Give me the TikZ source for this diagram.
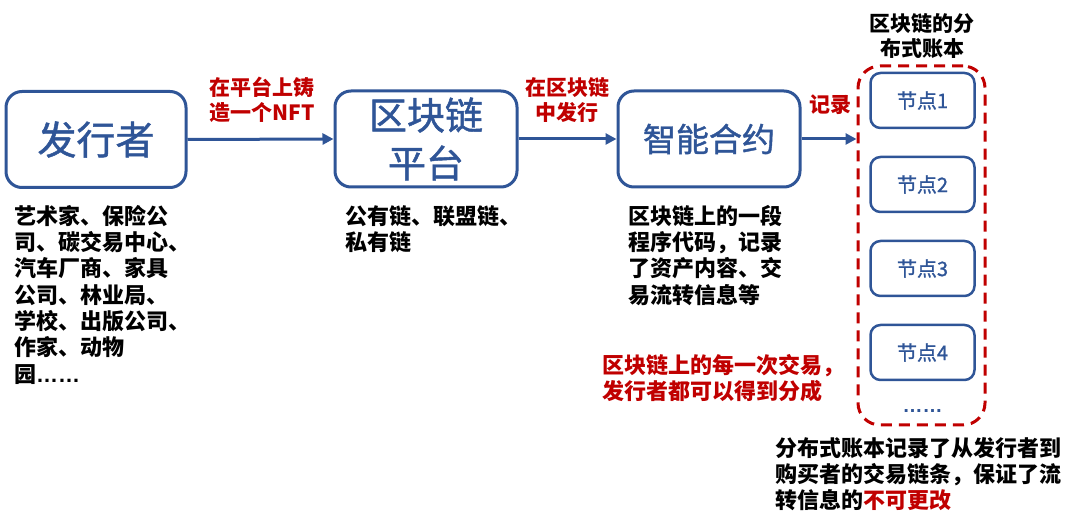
\documentclass[tikz,border=0pt]{standalone}
\usepackage{fontspec}
\setmainfont{Noto Sans CJK SC}
\newfontfamily\latinfont{Liberation Sans}
\newfontfamily\medfont[FakeBold=1.2]{Noto Sans CJK SC}
\usetikzlibrary{arrows.meta}
\definecolor{bblue}{RGB}{47,85,151}
\definecolor{dred}{RGB}{192,0,0}
\begin{document}
\begin{tikzpicture}[x=1pt,y=-1pt,
  mainbox/.style={draw=bblue, line width=3pt, rounded corners=16pt, minimum width=180pt, minimum height=96pt, text=bblue, align=center, inner sep=0pt},
  nodebox/.style={draw=bblue, line width=2.5pt, rounded corners=10pt, minimum width=104pt, minimum height=55pt, text=bblue, font=\medfont\fontsize{20}{24}\selectfont, inner sep=0pt},
  flow/.style={draw=bblue, line width=3pt, -{Triangle[length=11pt,width=11pt]}},
  redlbl/.style={text=dred, font=\bfseries\fontsize{21}{25}\selectfont, align=center, inner sep=0pt},
  blk/.style={font=\bfseries\fontsize{22}{26.3}\selectfont, align=left, anchor=north west, inner sep=0pt},
  ledgerbox/.style={draw=dred, line width=3pt, dash pattern=on 11pt off 7pt, rounded corners=22pt, minimum width=127pt, minimum height=359pt, inner sep=0pt}]
\useasboundingbox (0,0) rectangle (1080,529);

% main boxes
\node[mainbox, font=\medfont\fontsize{39}{48}\selectfont] (fx) at (96,139.5) {发行者};
\node[mainbox, minimum width=182pt, font=\medfont\fontsize{38}{48}\selectfont] (qk) at (426,139) {区块链\\平台};
\node[mainbox, minimum width=182pt, font=\medfont\fontsize{33}{40}\selectfont] (zn) at (709,139) {智能合约};

% ledger
\node[ledgerbox] (ledger) at (921.5,245.5) {};
\node[font=\bfseries\fontsize{21}{25}\selectfont, align=center, inner sep=0pt] (ltitle) at (922,36) {区块链的分\\布式账本};
\node[nodebox] (n1) at (922.5,100.5) {节点1};
\node[nodebox] (n2) at (922.5,184.5) {节点2};
\node[nodebox] (n3) at (922.5,268.5) {节点3};
\node[nodebox] (n4) at (922.5,352.5) {节点4};
\node[text=bblue, font=\latinfont\bfseries\fontsize{20}{24}\selectfont, inner sep=0pt] (dots) at (922.5,411) {……};

% arrows
\draw[flow] (fx.east) -- (qk.west);
\draw[flow] (qk.east) -- (zn.west);
\draw[flow] (zn.east) -- (zn.east -| ledger.west);

% arrow labels
\node[redlbl] (l1) at (262,100) {在平台上铸\\造一个NFT};
\node[redlbl] (l2) at (567,100) {在区块链\\中发行};
\node[redlbl] (l3) at (830,105) {记录};

% descriptions
\node[blk] (d1) at (14,205) {艺术家、保险公\\司、碳交易中心、\\汽车厂商、家具\\公司、林业局、\\学校、出版公司、\\作家、动物\\园{\latinfont ……}};
\node[blk] (d2) at (345,205) {公有链、联盟链、\\私有链};
\node[blk] (d3) at (628,205) {区块链上的一段\\程序代码，记录\\了资产内容、交\\易流转信息等};
\node[blk, text=dred] (d4) at (602,354) {区块链上的每一次交易，\\发行者都可以得到分成};
\node[blk] (d5) at (775,437) {分布式账本记录了从发行者到\\购买者的交易链条，保证了流\\转信息的\textcolor{dred}{不可更改}};
\end{tikzpicture}
\end{document}
